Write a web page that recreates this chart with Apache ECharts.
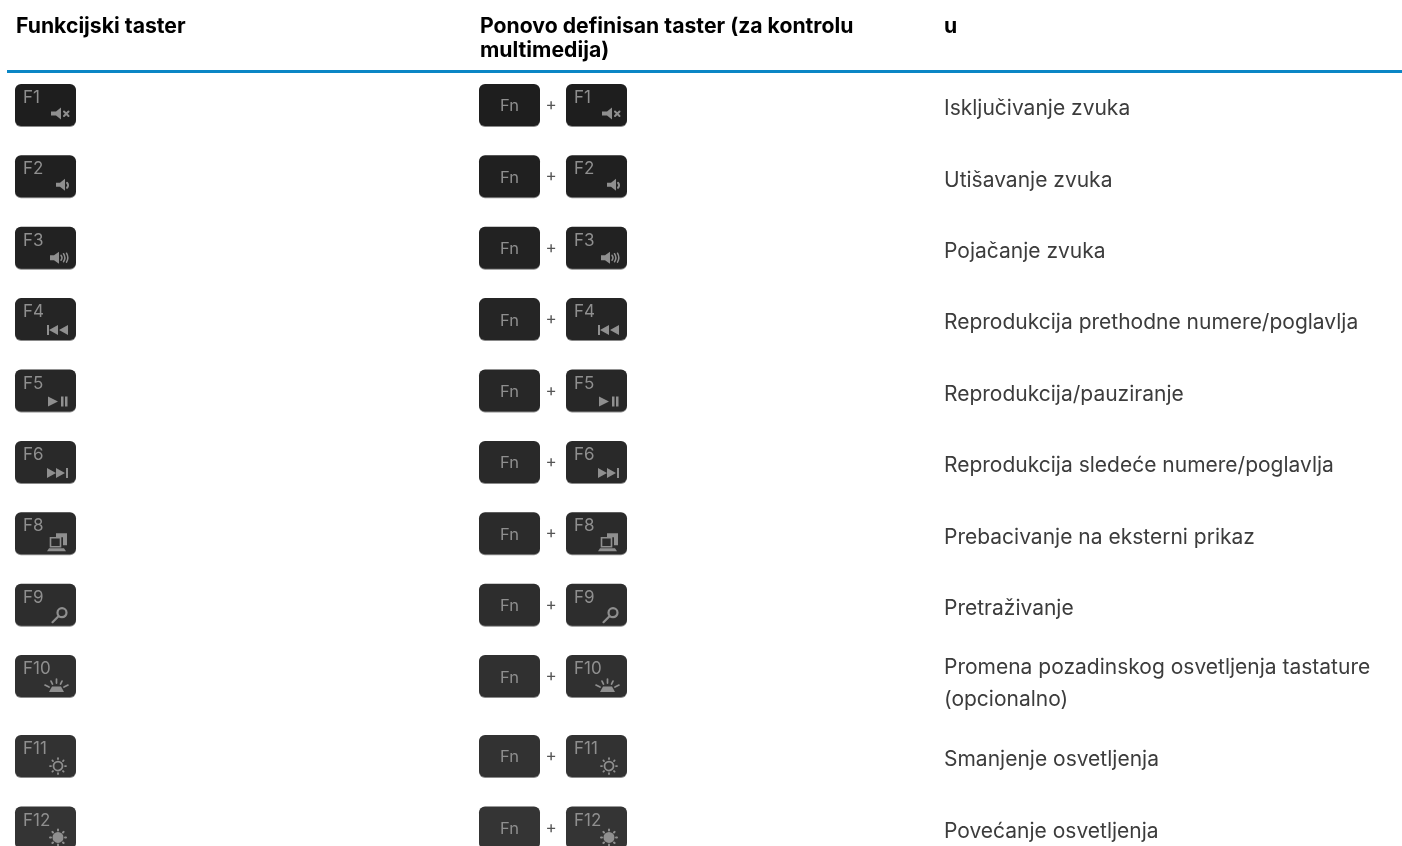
<!DOCTYPE html>
<html><head><meta charset="utf-8">
<style>html,body{margin:0;padding:0;background:#fff}#c{width:1402px;height:846px;filter:blur(0.35px)}</style>
<script src="https://cdn.jsdelivr.net/npm/echarts@6/dist/echarts.min.js"></script></head>
<body><div id="c"></div>
<script>
var headers = ['Funkcijski taster', 'Ponovo definisan taster (za kontrolu\nmultimedija)', 'u'];
var keys = ['F1','F2','F3','F4','F5','F6','F8','F9','F10','F11','F12'];
var icons = ['mute','low','high','prev','play','next','display','search','lamp','dim','bright'];
var descriptions = ['Isključivanje zvuka','Utišavanje zvuka','Pojačanje zvuka','Reprodukcija prethodne numere/poglavlja','Reprodukcija/pauziranje','Reprodukcija sledeće numere/poglavlja','Prebacivanje na eksterni prikaz','Pretraživanje','Promena pozadinskog osvetljenja tastature\n(opcionalno)','Smanjenje osvetljenja','Povećanje osvetljenja'];
var rowWeights = [1,1,1,1,1,1,1,1,1,1.12,1];

var sunDots = 'M50 31h1M48 36l.6.6M43 38v1M38 36l-.6.6M35 31h1M38 26l-.6-.6M43 23v1M48 26l.6-.6';
var ICON = {
  mute:{f:'M36 27.5h5l5-4v12l-5-4h-5z',s:'M49 27.5l4.5 4.5M53.5 27.5l-4.5 4.5',w:2},
  low:{f:'M41 27.5h4l5-4v12l-5-4h-4z',s:'M52 27.5a3.5 3.5 0 0 1 0 5',w:2},
  high:{f:'M35 28.5h4l5-3.5v12l-5-3.5h-4z',s:'M46 28.5a4 4 0 0 1 0 5M48.5 27a7 7 0 0 1 0 8M51.5 26.5a9 9 0 0 1 0 9',w:1.5},
  prev:{f:'M32 27h2v10h-2zM43 27v10l-9-5zM53 27v10l-9-5z',s:''},
  play:{f:'M33 27v10l10-5zM46 27h2.5v10h-2.5zM50 27h2.5v10h-2.5z',s:''},
  next:{f:'M32 27v10l9-5zM41 27v10l9-5zM51 27h2v10h-2z',s:''},
  display:{f:'M41 21h11v12h-4v-8h-7zM32 39l2-3h15l2 3z',s:'M35.5 25.5h10v9h-10z',w:1.6},
  search:{f:'',s:'M47 24.5a4.5 4.5 0 1 1 -.01 0zM43.5 32.5l-6 6',w:2.2},
  lamp:{f:'M34 37l3-5.5h9l3 5.5z',s:'M30 30l4 2M36 26l1.5 3M41.5 24v4M47 26l-1.5 3M53 30l-4 2',w:1.7},
  dim:{f:'',s:'M43 26.5a4.5 4.5 0 1 1 -.01 0z'+sunDots,w:1.8},
  bright:{f:'M43 25.5a5.5 5.5 0 1 1 -.01 0z',s:sunDots,w:2}
};
var rowData = [], acc = 0;
keys.forEach(function(k,i){ if(i>0) acc += rowWeights[i]; rowData.push([acc, i]); });

var GREY = '#8f8f8f';
function keyFill(i){ var t = i/10, v = Math.round(30 + t*22); return 'rgb('+v+','+v+','+v+')'; }
function keyShape(x, y, i, label, iconName){
  var ch = [
    {type:'rect',shape:{x:0,y:1,width:61,height:42,r:6},style:{fill:'#8a8a8a'}},
    {type:'rect',shape:{x:0,y:0,width:61,height:42,r:6},style:{fill:keyFill(i)}}
  ];
  if(iconName){
    ch.push({type:'text',style:{x:8,y:14,text:label,fill:GREY,font:'17px Inter',verticalAlign:'middle',align:'left'}});
    var ic = ICON[iconName];
    if(ic.f) ch.push({type:'path',shape:{pathData:ic.f},style:{fill:GREY,stroke:null}});
    if(ic.s) ch.push({type:'path',shape:{pathData:ic.s},style:{fill:null,stroke:GREY,lineWidth:ic.w||1.3,lineCap:'round'}});
  } else {
    ch.push({type:'text',style:{x:30.5,y:22.5,text:label,fill:GREY,font:'16.5px Inter',verticalAlign:'middle',align:'center'}});
  }
  return {type:'group',x:x,y:y,children:ch};
}
function renderRow(params, api){
  var i = api.value(1), cy = api.coord([0, api.value(0)])[1], top = cy - 21;
  var k = keys[i], ic = icons[i], d = descriptions[i];
  var two = d.indexOf('\n') >= 0;
  return {type:'group',children:[
    keyShape(15, top, i, k, ic),
    keyShape(479, top, i, 'Fn', null),
    {type:'text',style:{x:551,y:cy,text:'+',fill:'#555',font:'17px Inter',align:'center',verticalAlign:'middle'}},
    keyShape(566, top, i, k, ic),
    {type:'text',style:{x:944,y:cy+(two?8:4),text:d,fill:'#3c3c3c',font:'21px Inter',lineHeight:32,align:'left',verticalAlign:'middle'}}
  ]};
}
var chart = echarts.init(document.getElementById('c'), null, {renderer:'canvas'});
chart.setOption({
  animation:false,
  backgroundColor:'#fff',
  grid:{left:0,right:0,top:0,bottom:0},
  xAxis:{type:'value',min:0,max:1402,show:false},
  yAxis:{type:'value',inverse:true,min:-1.47,max:10.38,show:false},
  graphic:[
    {type:'text',style:{x:16,y:27,text:headers[0],fill:'#000',font:'700 21.2px Inter',verticalAlign:'middle'}},
    {type:'text',style:{x:480,y:39,text:headers[1],fill:'#000',font:'700 21.2px Inter',lineHeight:24,verticalAlign:'middle'}},
    {type:'text',style:{x:944,y:27,text:headers[2],fill:'#000',font:'700 21.2px Inter',verticalAlign:'middle'}},
    {type:'rect',shape:{x:7,y:70,width:1395,height:3},style:{fill:'#0a86c5'}}
  ],
  series:[{type:'custom',coordinateSystem:'cartesian2d',clip:false,encode:{y:0},data:rowData,renderItem:renderRow}]
});
</script></body></html>
